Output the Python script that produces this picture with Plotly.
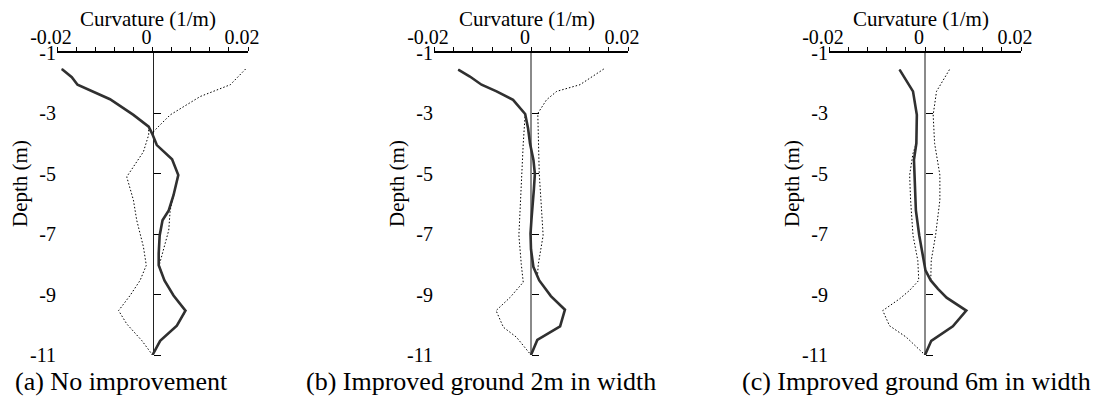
import plotly.graph_objects as go

W, H = 1097, 401

# ---------------- data ----------------
# Panel (a) No improvement
depth_a_solid = [-1.53, -1.80, -2.05, -2.53, -3.05, -3.44, -3.66, -4.05, -4.52, -5.04, -5.71, -6.21, -6.54, -7.04, -7.64, -8.03, -8.53, -9.03, -9.53, -10.03, -10.53, -11.0]
curv_a_solid = [-0.0190, -0.0169, -0.0157, -0.0089, -0.0040, -0.0008, -0.0001, 0.0009, 0.0041, 0.0054, 0.0044, 0.0034, 0.0021, 0.0015, 0.0013, 0.0013, 0.0025, 0.0044, 0.0069, 0.0051, 0.0016, 0.0]
depth_a_max = [-1.53, -2.05, -2.44, -3.05, -3.49, -3.66, -4.05, -4.52, -5.04, -5.71, -6.21, -6.87, -7.64, -8.03, -8.53, -9.03, -9.53, -10.03, -10.53, -11.0]
curv_a_max = [0.0195, 0.0163, 0.0100, 0.0037, 0.0009, -0.0001, 0.0009, 0.0041, 0.0054, 0.0044, 0.0037, 0.0034, 0.0020, 0.0014, 0.0025, 0.0044, 0.0070, 0.0052, 0.0017, 0.0]
depth_a_min = [-1.53, -1.80, -2.05, -2.53, -3.05, -3.44, -3.71, -4.27, -5.10, -5.87, -6.54, -7.42, -8.03, -8.53, -9.03, -9.53, -9.97, -10.53, -11.0]
curv_a_min = [-0.0190, -0.0169, -0.0157, -0.0089, -0.0040, -0.0008, -0.0008, -0.0019, -0.0054, -0.0040, -0.0033, -0.0019, -0.0013, -0.0026, -0.0047, -0.0071, -0.0054, -0.0022, 0.0]

# Panel (b) Improved ground 2m in width
depth_b_solid = [-1.55, -1.78, -2.05, -2.27, -2.55, -3.02, -3.50, -4.00, -4.54, -5.00, -5.50, -6.00, -6.50, -6.98, -7.50, -8.09, -8.53, -9.05, -9.50, -10.05, -10.50, -11.0]
curv_b_solid = [-0.0150, -0.0126, -0.0102, -0.0071, -0.0037, -0.0012, -0.0006, -0.0002, 0.0005, 0.0008, 0.0006, 0.0003, 0.0001, -0.0001, 0.0000, 0.0005, 0.0017, 0.0041, 0.0070, 0.0060, 0.0013, 0.0]
depth_b_max = [-1.53, -2.05, -2.27, -2.55, -3.00, -4.00, -5.00, -6.00, -7.04, -8.00, -8.45, -9.05, -9.50, -10.05, -10.50, -11.0]
curv_b_max = [0.0150, 0.0101, 0.0053, 0.0032, 0.0014, 0.0015, 0.0017, 0.0021, 0.0025, 0.0015, 0.0013, 0.0041, 0.0070, 0.0060, 0.0013, 0.0]
depth_b_min = [-1.55, -1.78, -2.05, -2.27, -2.55, -3.02, -4.00, -4.99, -6.00, -7.04, -8.00, -8.59, -9.09, -9.53, -10.08, -10.41, -11.0]
curv_b_min = [-0.0150, -0.0126, -0.0102, -0.0071, -0.0037, -0.0012, -0.0016, -0.0019, -0.0022, -0.0025, -0.0020, -0.0016, -0.0043, -0.0072, -0.0057, -0.0030, 0.0]

# Panel (c) Improved ground 6m in width
depth_c_solid = [-1.55, -1.89, -2.27, -3.05, -3.99, -4.54, -5.04, -6.21, -7.04, -7.64, -8.20, -8.53, -8.81, -9.10, -9.53, -10.05, -10.53, -11.0]
curv_c_solid = [-0.0053, -0.0039, -0.0025, -0.0017, -0.0018, -0.0023, -0.0022, -0.0019, -0.0012, -0.0005, 0.0001, 0.0012, 0.0027, 0.0045, 0.0086, 0.0058, 0.0013, 0.0]
depth_c_max = [-1.55, -2.27, -3.05, -3.99, -5.04, -5.87, -7.04, -7.87, -8.53, -8.81, -9.10, -9.53, -10.05, -10.53, -11.0]
curv_c_max = [0.0051, 0.0024, 0.0017, 0.0020, 0.0031, 0.0031, 0.0022, 0.0013, 0.0012, 0.0027, 0.0045, 0.0086, 0.0058, 0.0013, 0.0]
depth_c_min = [-1.55, -1.89, -2.27, -3.05, -3.99, -4.32, -5.04, -5.87, -7.04, -7.87, -8.53, -8.86, -9.14, -9.53, -10.03, -10.41, -11.0]
curv_c_min = [-0.0053, -0.0039, -0.0025, -0.0017, -0.0018, -0.0025, -0.0032, -0.0030, -0.0025, -0.0015, -0.0013, -0.0032, -0.0053, -0.0088, -0.0074, -0.0039, 0.0]

x_tickvals = [-0.02, -0.016, -0.012, -0.008, -0.004, 0.0, 0.004, 0.008, 0.012, 0.016, 0.02]
x_ticktext = ["-0.02", "", "", "", "", "0", "", "", "", "", "0.02"]
y_tickvals = [-1, -3, -5, -7, -9, -11]
y_ticktext = ["-1", "-3", "-5", "-7", "-9", "-11"]
y_minor_ticks = [-3, -5, -7, -9, -11]

captions = ["(a) No improvement", "(b) Improved ground 2m in width", "(c) Improved ground 6m in width"]
x_title = "Curvature (1/m)"
y_title = "Depth (m)"

# ---------------- layout geometry (pixels) ----------------
panels_px = [(57, 248), (434, 628), (829, 1021)]
caption_left_px = [13, 304, 740]
zero_line_color = ["#222222", "#8a8a8a", "#8a8a8a"]
zero_line_width = [1.2, 2.0, 2.0]
plot_top_px, plot_bot_px = 53, 355
ydom = [1 - plot_bot_px / H, 1 - plot_top_px / H]

FONT = "Liberation Serif"

panels = [
    (depth_a_solid, curv_a_solid, depth_a_max, curv_a_max, depth_a_min, curv_a_min),
    (depth_b_solid, curv_b_solid, depth_b_max, curv_b_max, depth_b_min, curv_b_min),
    (depth_c_solid, curv_c_solid, depth_c_max, curv_c_max, depth_c_min, curv_c_min),
]

fig = go.Figure()
layout = dict(
    template="none",
    width=W, height=H,
    margin=dict(l=0, r=0, t=0, b=0, pad=0, autoexpand=False),
    paper_bgcolor="white", plot_bgcolor="rgba(0,0,0,0)",
    showlegend=False,
    font=dict(family=FONT, color="black"),
)
annotations = []

for i, (d_s, c_s, d_mx, c_mx, d_mn, c_mn) in enumerate(panels):
    n = i + 1
    ov = i + 4
    x0, x1 = panels_px[i]
    xdom = [x0 / W, x1 / W]
    xa = "x" if n == 1 else f"x{n}"
    ya = "y" if n == 1 else f"y{n}"
    ya_ov = f"y{ov}"

    dotted = dict(color="black", width=1, dash="1.5px,2px")
    fig.add_trace(go.Scatter(x=c_mx, y=d_mx, mode="lines", line=dotted,
                             xaxis=xa, yaxis=ya, hoverinfo="skip"))
    fig.add_trace(go.Scatter(x=c_mn, y=d_mn, mode="lines", line=dotted,
                             xaxis=xa, yaxis=ya, hoverinfo="skip"))
    fig.add_trace(go.Scatter(x=c_s, y=d_s, mode="lines",
                             line=dict(color="#303030", width=2.6),
                             xaxis=xa, yaxis=ya, hoverinfo="skip"))
    # empty trace so that the zero-line axis (overlay) is registered
    fig.add_trace(go.Scatter(x=[], y=[], mode="lines", xaxis=xa, yaxis=ya_ov,
                             hoverinfo="skip"))

    layout["xaxis" if n == 1 else f"xaxis{n}"] = dict(
        domain=xdom, range=[-0.02, 0.02], side="top", anchor=ya,
        automargin=False,
        tickmode="array", tickvals=x_tickvals, ticktext=x_ticktext,
        ticks="outside", ticklen=4, tickwidth=1, tickcolor="black",
        showline=True, linecolor="black", linewidth=1.5,
        showgrid=False, zeroline=False,
        tickfont=dict(family=FONT, size=20, color="black"),
        ticklabelshift=-6, ticklabelstandoff=-5,
    )
    layout["yaxis" if n == 1 else f"yaxis{n}"] = dict(
        domain=ydom, range=[-11, -1], anchor=xa, automargin=False,
        tickmode="array", tickvals=y_tickvals, ticktext=y_ticktext,
        ticks="", showline=False, showgrid=False, zeroline=False,
        tickfont=dict(family=FONT, size=20, color="black"),
    )
    layout[f"yaxis{ov}"] = dict(
        overlaying=ya, anchor="free", automargin=False,
        position=(xdom[0] + xdom[1]) / 2, side="right",
        range=[-11, -1], tickmode="array", tickvals=y_minor_ticks,
        ticks="outside", ticklen=7, tickwidth=1, tickcolor="black",
        showticklabels=False, showline=True,
        linecolor=zero_line_color[i], linewidth=zero_line_width[i],
        showgrid=False, zeroline=False, layer="below traces",
    )

    annotations.append(dict(
        text=x_title, xref="paper", yref="paper",
        x=(xdom[0] + xdom[1]) / 2, xshift=-4, y=ydom[1], yshift=34,
        xanchor="center", yanchor="middle", showarrow=False,
        font=dict(family=FONT, size=21, color="black"),
    ))
    annotations.append(dict(
        text=y_title, xref="paper", yref="paper", textangle=-90,
        x=xdom[0], xshift=-37, y=1 - 184 / H,
        xanchor="center", yanchor="middle", showarrow=False,
        font=dict(family=FONT, size=21, color="black"),
    ))
    annotations.append(dict(
        text=captions[i], xref="paper", yref="paper",
        x=caption_left_px[i] / W, y=1 - 381 / H,
        xanchor="left", yanchor="middle", showarrow=False,
        font=dict(family=FONT, size=26, color="black"),
    ))

layout["annotations"] = annotations
fig.update_layout(**layout)
fig.write_html("out.html")
